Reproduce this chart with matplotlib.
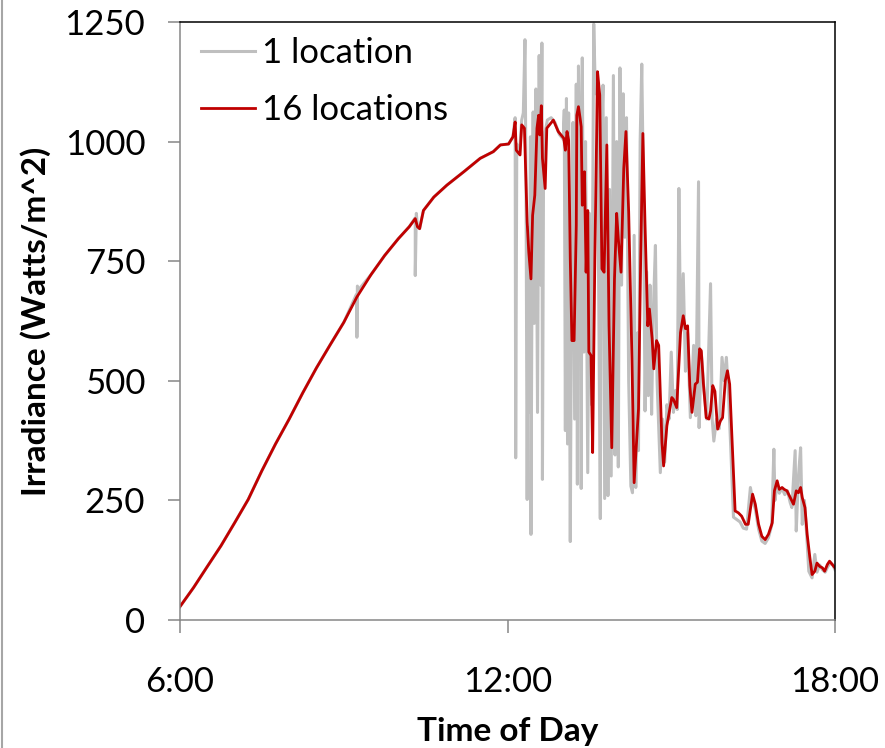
import numpy as np
import matplotlib.pyplot as plt
from matplotlib.lines import Line2D
from matplotlib.ticker import FuncFormatter

plt.rcParams['font.family'] = ['Lato', 'DejaVu Sans']

# clear-sky morning, shared by both series (hours, W/m^2)
clear_t = [6.00, 6.25, 6.49, 6.75, 7.00, 7.25, 7.50, 7.75, 8.00, 8.25, 8.50,
           8.75, 9.00, 9.24, 9.50, 9.75, 10.00, 10.20, 10.31, 10.35, 10.39,
           10.46, 10.65, 10.89, 11.20, 11.50, 11.74, 11.87, 12.02, 12.10]
clear_v = [28, 68, 110, 155, 203, 252, 312, 368, 420, 475, 527,
           575, 622, 675, 722, 762, 797, 822, 839, 822, 818,
           856, 884, 909, 937, 965, 979, 993, 995, 1010]

# single sensor dropouts during the clear morning
dips_t = [9.23, 9.241, 9.25, 9.27, 10.305, 10.31, 10.33]
dips_v = [680, 591, 698, 690, 840, 720, 850]

# afternoon, 1 location
one_t = [12.14, 12.15, 12.17, 12.22, 12.26, 12.29, 12.32, 12.34, 12.36, 12.38,
         12.40, 12.42, 12.43, 12.45, 12.47, 12.49, 12.52, 12.55, 12.58, 12.61,
         12.63, 12.64, 12.66, 12.69, 12.73, 12.80, 12.87, 12.95, 13.02, 13.04,
         13.06, 13.08, 13.10, 13.12, 13.15, 13.17, 13.20, 13.23, 13.26, 13.28,
         13.30, 13.33, 13.35, 13.37, 13.40, 13.43, 13.47, 13.50, 13.54, 13.58,
         13.61, 13.64, 13.67, 13.70, 13.72, 13.75, 13.78, 13.81, 13.84, 13.87,
         13.90, 13.94, 13.97, 14.00, 14.03, 14.06, 14.09, 14.12, 14.15, 14.18,
         14.22, 14.26, 14.29, 14.32, 14.35, 14.38, 14.40, 14.43, 14.46, 14.49,
         14.52, 14.55, 14.58, 14.61, 14.64, 14.67, 14.71, 14.74, 14.80, 14.84,
         14.88, 14.92, 14.96, 15.00, 15.04, 15.08, 15.11, 15.14, 15.17, 15.22,
         15.26, 15.30, 15.35, 15.41, 15.45, 15.50, 15.51, 15.55, 15.60, 15.65,
         15.72, 15.75, 15.78, 15.83, 15.88, 15.93, 15.97, 16.01, 16.05, 16.09,
         16.14, 16.20, 16.26, 16.32, 16.38, 16.45, 16.49, 16.54, 16.60, 16.66,
         16.72, 16.78, 16.84, 16.88, 16.90, 16.94, 16.98, 17.03, 17.08, 17.13,
         17.18, 17.21, 17.27, 17.29, 17.33, 17.37, 17.40, 17.44, 17.48, 17.52,
         17.58, 17.63, 17.67, 17.72, 17.77, 17.82, 17.87, 17.92, 17.96, 18.00]
one_v = [1050, 339, 995, 975, 1045, 1060, 1213, 905, 252, 820,
         434, 1010, 179, 760, 1062, 620, 1110, 434, 1180, 700,
         1206, 294, 930, 1020, 1045, 1050, 1040, 1015, 1005, 1066,
         396, 1090, 368, 1060, 164, 640, 1040, 420, 1120, 284,
         1158, 990, 275, 1175, 560, 1000, 308, 850, 450, 1246,
         1100, 1146, 700, 212, 1000, 1118, 254, 1050, 260, 900,
         301, 1138, 345, 1000, 320, 1154, 700, 1100, 800, 1050,
         500, 280, 266, 804, 277, 600, 354, 1000, 1162, 900,
         437, 728, 469, 700, 430, 640, 783, 500, 308, 420,
         330, 450, 420, 560, 434, 480, 440, 902, 600, 724,
         520, 600, 423, 574, 427, 916, 402, 560, 480, 420,
         703, 420, 374, 420, 400, 549, 500, 549, 470, 360,
         215, 210, 205, 192, 190, 277, 250, 232, 190, 165,
         160, 172, 198, 357, 250, 285, 265, 275, 262, 270,
         245, 235, 354, 186, 300, 360, 200, 250, 180, 102,
         88, 137, 100, 115, 105, 100, 112, 120, 115, 105]

# afternoon, average of 16 locations
avg_t = [12.14, 12.16, 12.23, 12.26, 12.31, 12.36, 12.39, 12.43, 12.46, 12.50,
         12.54, 12.57, 12.59, 12.62, 12.64, 12.69, 12.72, 12.84, 12.93, 13.03,
         13.06, 13.09, 13.12, 13.15, 13.18, 13.22, 13.26, 13.27, 13.30, 13.33,
         13.35, 13.37, 13.39, 13.41, 13.44, 13.47, 13.49, 13.53, 13.56, 13.60,
         13.65, 13.69, 13.73, 13.77, 13.82, 13.86, 13.91, 13.96, 14.00, 14.03,
         14.08, 14.13, 14.17, 14.22, 14.28, 14.32, 14.40, 14.44, 14.48, 14.52,
         14.57, 14.60, 14.65, 14.68, 14.73, 14.77, 14.83, 14.86, 14.92, 15.01,
         15.04, 15.10, 15.17, 15.22, 15.26, 15.30, 15.34, 15.38, 15.44, 15.48,
         15.52, 15.55, 15.59, 15.64, 15.69, 15.72, 15.76, 15.80, 15.85, 15.90,
         15.94, 15.99, 16.03, 16.07, 16.11, 16.17, 16.23, 16.29, 16.36, 16.41,
         16.45, 16.49, 16.54, 16.60, 16.66, 16.72, 16.78, 16.85, 16.89, 16.94,
         16.98, 17.03, 17.07, 17.12, 17.18, 17.24, 17.29, 17.33, 17.37, 17.40,
         17.45, 17.49, 17.54, 17.58, 17.63, 17.67, 17.72, 17.77, 17.81, 17.86,
         17.90, 17.95, 18.00]
avg_v = [1041, 982, 972, 1035, 1028, 832, 769, 713, 846, 888,
         1028, 1055, 1014, 1075, 965, 902, 1028, 1045, 1021, 1007,
         982, 1021, 1003, 755, 584, 584, 825, 1055, 1073, 1049,
         1031, 867, 875, 937, 727, 856, 560, 553, 350, 755,
         1146, 1097, 734, 727, 993, 615, 360, 713, 850, 797,
         727, 944, 1021, 853, 546, 287, 441, 755, 1017, 825,
         615, 650, 588, 525, 584, 574, 371, 322, 406, 465,
         461, 444, 601, 636, 609, 615, 490, 434, 493, 497,
         567, 563, 493, 423, 420, 437, 490, 478, 399, 416,
         423, 500, 521, 493, 388, 228, 224, 217, 200, 200,
         231, 263, 242, 200, 175, 168, 179, 203, 270, 291,
         273, 277, 273, 270, 256, 242, 270, 266, 277, 256,
         235, 179, 130, 95, 102, 119, 112, 109, 102, 116,
         123, 116, 109]

# merge the morning with each afternoon series
gray_t = np.array(clear_t + dips_t)
gray_v = np.array(clear_v + dips_v)
order = np.argsort(gray_t, kind='stable')
gray_t = np.concatenate([gray_t[order], one_t])
gray_v = np.concatenate([gray_v[order], one_v])
red_t = np.array(clear_t + avg_t)
red_v = np.array(clear_v + avg_v)

fig = plt.figure(figsize=(8.85, 7.48), dpi=100)
ax = fig.add_axes([180 / 885, 1 - 620 / 748, 655 / 885, 598 / 748])

ax.plot(gray_t, gray_v, color='#BFBFBF', lw=2.2, label='1 location')
ax.plot(red_t, red_v, color='#C00000', lw=2.0, label='16 locations')

ax.set_xlim(6, 18)
ax.set_ylim(0, 1250)
ax.set_xticks([6, 12, 18])
ax.set_yticks([0, 250, 500, 750, 1000, 1250])
ax.xaxis.set_major_formatter(FuncFormatter(lambda v, p: f'{int(v)}:00'))

axis_gray = '#868686'
for side in ['left', 'bottom']:
    ax.spines[side].set_color(axis_gray)
    ax.spines[side].set_linewidth(1.1)
for side in ['top', 'right']:
    ax.spines[side].set_color('black')
    ax.spines[side].set_linewidth(1.1)
ax.tick_params(axis='y', direction='out', length=9, width=1.1, color=axis_gray,
               labelsize=25, pad=16)
ax.tick_params(axis='x', direction='out', length=9, width=1.1, color=axis_gray,
               labelsize=25, pad=24)

ax.set_ylabel('Irradiance (Watts/m^2)', fontsize=24, fontweight='bold', labelpad=10)
ax.set_xlabel('Time of Day', fontsize=24, fontweight='bold', labelpad=14)

ax.legend(loc='upper left', bbox_to_anchor=(0.01, 1.0), frameon=False, fontsize=25,
          handlelength=1.55, handletextpad=0.18, labelspacing=0.72, borderaxespad=0.03)

fig.add_artist(Line2D([0.002, 0.002], [0, 1], transform=fig.transFigure,
                      color='#A6A6A6', lw=1.5))

fig.savefig('out.png', dpi=100)
